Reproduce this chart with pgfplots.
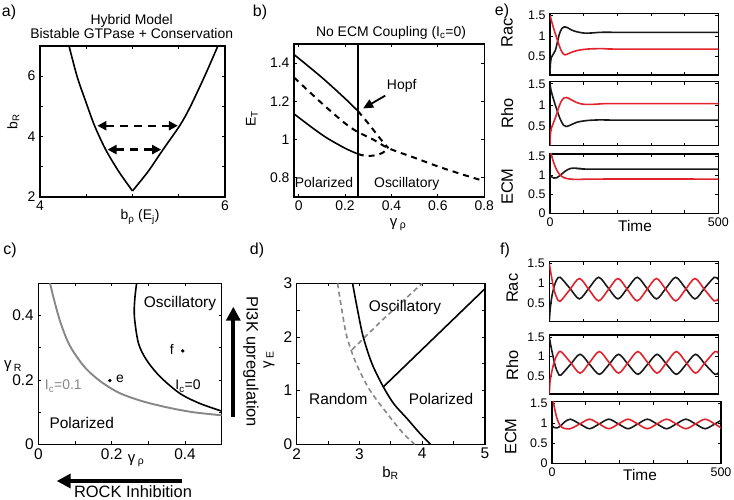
\documentclass[border=0pt]{standalone}
\usepackage{fontspec}
\setmainfont{Liberation Sans}
\usepackage{pgfplots}
\pgfplotsset{compat=1.18}
\usetikzlibrary{arrows.meta}
\definecolor{mred}{RGB}{225,35,45}
\definecolor{mgray}{RGB}{135,135,135}
\definecolor{mblk}{RGB}{25,25,25}
\newcommand{\fs}[1]{\fontsize{#1}{#1}\selectfont}
\newcommand{\sub}[1]{\textsubscript{#1}}
\pgfplotsset{
 mat/.style={
   scale only axis, anchor=south west,
   axis line style={line width=1.5bp},
   tick style={black, line width=0.8bp}, tick align=inside,
   major tick length=3bp, minor tick length=3bp,
   tick label style={font=\fs{14}},
   /pgf/number format/assume math mode=true,
   xticklabel style={yshift=-0.5bp},
   yticklabel style={xshift=-1bp},
 },
 big/.style={tick label style={font=\fs{15.5}}},
 crv/.style={line width=1.6bp, mark=none},
 ts/.style={mat, xmin=0, xmax=500, xtick={0,100,200,300,400,500}, xticklabels={}, tick label style={font=\fs{12.5}}},
}
\begin{document}
\begin{tikzpicture}
\useasboundingbox (0,0) rectangle (734bp,500bp);

% ---------------- a ----------------
\begin{axis}[mat, at={(40bp,303bp)}, width=185bp, height=151bp,
  xmin=4, xmax=6, ymin=2, ymax=7, xtick={4,6}, minor xtick={4.5,5,5.5},
  ytick={2,4,6}, minor ytick={3,5}]
\addplot[crv, smooth] coordinates {(5,2.2) (4.85,2.85) (4.71,3.57) (4.59,4.36) (4.49,5.2) (4.40,6) (4.31,7.05)};
\addplot[crv, smooth] coordinates {(5,2.2) (5.17,2.85) (5.33,3.57) (5.51,4.36) (5.62,4.96) (5.78,6) (5.93,7.05)};
\addplot[line width=2.2bp, dash pattern=on 8bp off 6bp, {Triangle[length=9bp,width=9bp]}-{Triangle[length=9bp,width=9bp]}] coordinates {(4.62,4.36) (5.49,4.36)};
\addplot[line width=2.2bp, dash pattern=on 8bp off 6bp, {Triangle[length=9bp,width=9bp]}-{Triangle[length=9bp,width=9bp]}] coordinates {(4.73,3.57) (5.31,3.57)};
\end{axis}

% ---------------- b ----------------
\begin{axis}[mat, at={(294bp,303bp)}, width=190.3bp, height=153bp,
  xmin=-0.02, xmax=0.8, ymin=0.7, ymax=1.5, xtick={0,0.2,0.4,0.6,0.8}, ytick={0.8,1,1.2,1.4}]
\addplot[crv, smooth] coordinates {(-0.02,1.445) (0.1,1.325) (0.2,1.215) (0.255,1.15)};
\addplot[crv, smooth] coordinates {(-0.02,1.135) (0.05,1.07) (0.12,1.01) (0.2,0.955) (0.255,0.925)};
\addplot[line width=2bp, dash pattern=on 6bp off 5bp, smooth] coordinates {(0.255,1.15) (0.3,1.085) (0.345,1.015) (0.387,0.955)};
\addplot[line width=2bp, dash pattern=on 6bp off 5bp, smooth] coordinates {(-0.02,1.325) (0.1,1.19) (0.2,1.085) (0.255,1.04) (0.322,1.0) (0.387,0.955) (0.5,0.905) (0.6,0.86) (0.7,0.82) (0.8,0.783)};
\addplot[line width=2bp, dash pattern=on 6bp off 5bp, smooth] coordinates {(0.255,0.925) (0.29,0.915) (0.33,0.918) (0.36,0.93) (0.387,0.955)};
\addplot[line width=1.8bp, mark=none] coordinates {(0.255,0.7) (0.255,1.5)};
\addplot[line width=1.8bp, mark=none, -{Triangle[length=10bp,width=9bp]}] coordinates {(0.373,1.23) (0.278,1.163)};
\end{axis}

% ---------------- c ----------------
\begin{axis}[mat, big, at={(38.3bp,55.7bp)}, width=183.4bp, height=161bp,
  xmin=0, xmax=0.5, ymin=0, ymax=0.5, xtick={0,0.2,0.4}, minor xtick={0.1,0.3},
  ytick={0,0.2,0.4}, minor ytick={0.1,0.3}]
\addplot[crv, color=mgray, line width=1.9bp, smooth] coordinates {(0.032,0.5) (0.045,0.44) (0.06,0.38) (0.08,0.32) (0.1,0.28) (0.13,0.235) (0.17,0.195) (0.22,0.16) (0.28,0.135) (0.35,0.115) (0.42,0.1) (0.5,0.09)};
\addplot[crv, smooth] coordinates {(0.268,0.5) (0.263,0.45) (0.262,0.396) (0.273,0.314) (0.295,0.262) (0.332,0.21) (0.386,0.158) (0.44,0.127) (0.5,0.103)};
\addplot[only marks, mark=*, mark size=1.5bp, black] coordinates {(0.195,0.198) (0.394,0.29)};
\end{axis}

% ---------------- d ----------------
\begin{axis}[mat, big, at={(296.7bp,55.7bp)}, width=188.3bp, height=161bp,
  xmin=2, xmax=5, ymin=0, ymax=3, xtick={2,3,4,5}, minor xtick={2.5,3.5,4.5},
  ytick={0,1,2,3}, minor ytick={0.5,1.5,2.5}]
\addplot[line width=1.6bp, color=mgray, dash pattern=on 5bp off 3.5bp, smooth] coordinates {(2.65,3) (2.72,2.5) (2.8,2) (2.95,1.5) (3.17,1) (3.49,0.5) (3.7,0.2) (3.88,0)};
\addplot[line width=1.6bp, color=mgray, dash pattern=on 5bp off 3.5bp] coordinates {(2.88,1.76) (3.35,2.3) (4.0,3.0)};
\addplot[crv, smooth] coordinates {(2.89,3) (2.97,2.5) (3.06,2) (3.2,1.5) (3.38,1.07) (3.55,0.75) (3.75,0.49) (3.95,0.22) (4.13,0)};
\addplot[crv] coordinates {(3.38,1.07) (5,2.9)};
\end{axis}

% ---------------- e ----------------
\begin{axis}[ts, at={(550bp,425bp)}, width=168.3bp, height=61.7bp, ymin=0.05, ymax=1.55, ytick={0.5,1,1.5}]
\addplot[crv, mblk, smooth] coordinates {(0,0.07) (1,0.3) (4,0.48) (10,0.56) (16,0.65) (22,0.85) (28,1.05) (35,1.18) (42,1.22) (52,1.2) (65,1.14) (80,1.1) (100,1.07) (120,1.07) (145,1.085) (170,1.09) (200,1.085) (250,1.085) (500,1.085)};
\addplot[crv, mred, smooth] coordinates {(0,1.5) (5,1.35) (12,1.15) (20,0.95) (28,0.75) (36,0.6) (44,0.54) (55,0.57) (70,0.62) (90,0.66) (120,0.685) (160,0.69) (200,0.68) (500,0.68)};
\end{axis}
\begin{axis}[ts, at={(550bp,354.3bp)}, width=168.3bp, height=64bp, ymin=0.05, ymax=1.55, ytick={0.5,1,1.5}]
\addplot[crv, mblk, smooth] coordinates {(0,1.5) (3,1.35) (10,1.15) (20,0.9) (30,0.68) (40,0.53) (48,0.5) (60,0.53) (80,0.6) (110,0.64) (150,0.655) (200,0.65) (500,0.65)};
\addplot[crv, mred, smooth] coordinates {(0,0.05) (1,0.3) (4,0.45) (10,0.58) (18,0.75) (26,0.95) (34,1.1) (42,1.17) (50,1.18) (60,1.14) (80,1.06) (100,1.02) (130,1.02) (160,1.035) (200,1.035) (500,1.035)};
\end{axis}
\begin{axis}[ts, at={(550bp,286.7bp)}, width=168.3bp, height=59.3bp, ymin=0, ymax=1.55, ytick={0,0.5,1,1.5}, xticklabels={0,,,,,500}]
\addplot[crv, mblk, smooth] coordinates {(0,1.0) (5,0.95) (12,0.92) (20,0.93) (30,0.99) (45,1.1) (60,1.17) (75,1.18) (95,1.165) (130,1.155) (500,1.155)};
\addplot[crv, mred, smooth] coordinates {(0,1.7) (5,1.5) (12,1.3) (20,1.13) (30,1.0) (42,0.93) (55,0.9) (75,0.885) (100,0.89) (140,0.895) (500,0.895)};
\end{axis}

% ---------------- f ----------------
\begin{axis}[ts, at={(549.3bp,178.3bp)}, width=169bp, height=60bp, ymin=0.05, ymax=1.55, ytick={0.5,1,1.5}]
\addplot[crv, mblk, smooth] coordinates {(0,0.05) (3,0.4) (8,0.7) (15,0.95) (22,1.1) (32,1.16) (60.5,0.89) (89,0.62) (117.5,0.89) (146,1.16) (174.5,0.89) (203,0.62) (231.5,0.89) (260,1.16) (288.5,0.89) (317,0.62) (345.5,0.89) (374,1.16) (402.5,0.89) (431,0.62) (459.5,0.89) (488,1.16) (500,1.11)};
\addplot[crv, mred, smooth] coordinates {(0,1.5) (6,1.2) (14,0.85) (22,0.65) (32,0.56) (60.5,0.85) (89,1.13) (117.5,0.85) (146,0.57) (174.5,0.85) (203,1.13) (231.5,0.85) (260,0.57) (288.5,0.85) (317,1.13) (345.5,0.85) (374,0.57) (402.5,0.85) (431,1.13) (459.5,0.85) (488,0.57) (500,0.62)};
\end{axis}
\begin{axis}[ts, at={(549.3bp,106bp)}, width=169bp, height=59bp, ymin=0.05, ymax=1.55, ytick={0.5,1,1.5}]
\addplot[crv, mblk, smooth] coordinates {(0,1.5) (4,1.3) (10,1.05) (18,0.75) (26,0.58) (34,0.53) (62.5,0.8) (91,1.06) (119.5,0.8) (148,0.55) (176.5,0.8) (205,1.06) (233.5,0.8) (262,0.55) (290.5,0.8) (319,1.06) (347.5,0.8) (376,0.55) (404.5,0.8) (433,1.06) (461.5,0.8) (490,0.55) (500,0.59)};
\addplot[crv, mred, smooth] coordinates {(0,0.05) (2,0.35) (7,0.6) (14,0.85) (22,1.03) (34,1.13) (62.5,0.855) (91,0.58) (119.5,0.855) (148,1.13) (176.5,0.855) (205,0.58) (233.5,0.855) (262,1.13) (290.5,0.855) (319,0.58) (347.5,0.855) (376,1.13) (404.5,0.855) (433,0.58) (461.5,0.855) (490,1.13) (500,1.09)};
\end{axis}
\begin{axis}[ts, at={(552bp,36.7bp)}, width=169bp, height=61.6bp, ymin=0, ymax=1.55, ytick={0,0.5,1,1.5}, xticklabels={0,,,,,500}]
\addplot[crv, mblk, smooth] coordinates {(0,0.95) (6,0.9) (14,0.89) (24,0.93) (36,1.03) (54,1.11) (82.5,0.99) (111,0.87) (139.5,0.99) (168,1.11) (196.5,0.99) (225,0.87) (253.5,0.99) (282,1.11) (310.5,0.99) (339,0.87) (367.5,0.99) (396,1.11) (424.5,0.99) (453,0.87) (481.5,0.99) (500,1.08)};
\addplot[crv, mred, smooth] coordinates {(0,1.75) (6,1.45) (14,1.15) (24,0.95) (36,0.88) (54,0.87) (82.5,0.99) (111,1.11) (139.5,0.99) (168,0.87) (196.5,0.99) (225,1.11) (253.5,0.99) (282,0.87) (310.5,0.99) (339,1.11) (367.5,0.99) (396,0.87) (424.5,0.99) (453,1.11) (481.5,0.99) (500,0.89)};
\end{axis}

% ---------------- text ----------------
\node[font=\fs{16}] at (9bp,488bp) {a)};
\node[font=\fs{16}] at (260bp,488bp) {b)};
\node[font=\fs{16}] at (10bp,250bp) {c)};
\node[font=\fs{16}] at (257bp,250bp) {d)};
\node[font=\fs{16}] at (502bp,489bp) {e)};
\node[font=\fs{16}] at (505bp,250bp) {f)};

\node[font=\fs{14}, anchor=base] at (131.7bp,475bp) {Hybrid Model};
\node[font=\fs{14}, anchor=base] at (131.7bp,461.7bp) {Bistable GTPase + Conservation};
\node[font=\fs{14}, anchor=base] at (391bp,463.3bp) {No ECM Coupling (I\sub{c}=0)};

\node[font=\fs{14}, anchor=base] at (140bp,280bp) {b\sub{ρ} (E\sub{j})};
\node[font=\fs{14}, rotate=90] at (13.3bp,378.3bp) {b\sub{R}};

\node[font=\fs{14}, anchor=base] at (401.7bp,410bp) {Hopf};
\node[font=\fs{14}, anchor=base] at (324bp,312.3bp) {Polarized};
\node[font=\fs{14}, anchor=base] at (406.7bp,312.3bp) {Oscillatory};
\node[font=\fs{15}, anchor=base] at (398bp,273.5bp) {γ\,\sub{ρ}};
\node[font=\fs{14}, rotate=90] at (252bp,381bp) {E\sub{T}};

\node[font=\fs{15.5}, anchor=base] at (180bp,192.7bp) {Oscillatory};
\node[font=\fs{15.5}, anchor=base] at (81.7bp,71bp) {Polarized};
\node[font=\fs{14}, anchor=base] at (171.7bp,145bp) {f};
\node[font=\fs{14}, anchor=base] at (120bp,117.3bp) {e};
\node[font=\fs{14}, anchor=base] at (188bp,110bp) {I\sub{c}=0};
\node[font=\fs{14}, anchor=base, text=mgray] at (63.3bp,110bp) {I\sub{c}=0.1};
\node[font=\fs{15}, anchor=base] at (136bp,37.5bp) {γ\,\sub{ρ}};
\node[font=\fs{15}, anchor=base west] at (0.5bp,131bp) {γ\,\sub{R}};
\draw[line width=4bp, -{Triangle[length=14bp,width=14bp]}] (181.7bp,19bp) -- (56.7bp,19bp);
\node[font=\fs{16.5}, anchor=base] at (133bp,2.5bp) {ROCK Inhibition};
\draw[line width=4bp, -{Triangle[length=14bp,width=14bp]}] (233.3bp,83bp) -- (233.3bp,193.3bp);
\node[font=\fs{16.5}, rotate=-90, anchor=base] at (246.7bp,138.3bp) {PI3K upregulation};

\node[font=\fs{15.5}, anchor=base] at (405bp,188.3bp) {Oscillatory};
\node[font=\fs{15.5}, anchor=base] at (338.3bp,95.7bp) {Random};
\node[font=\fs{15.5}, anchor=base] at (441bp,95.7bp) {Polarized};
\node[font=\fs{15}, anchor=base] at (390.5bp,23bp) {b\sub{R}};
\node[font=\fs{15}, rotate=90] at (269bp,140bp) {γ\,\sub{E}};

\node[font=\fs{16.5}, rotate=90] at (507bp,467bp) {Rac};
\node[font=\fs{16.5}, rotate=90] at (507.3bp,387bp) {Rho};
\node[font=\fs{16.5}, rotate=90] at (507.3bp,313.3bp) {ECM};
\node[font=\fs{16.5}, rotate=90] at (512.3bp,211.7bp) {Rac};
\node[font=\fs{16.5}, rotate=90] at (512.3bp,135bp) {Rho};
\node[font=\fs{16.5}, rotate=90] at (510.7bp,63.3bp) {ECM};
\node[font=\fs{15.5}, anchor=base] at (635bp,268.3bp) {Time};
\node[font=\fs{15.5}, anchor=base] at (640bp,20bp) {Time};
\end{tikzpicture}
\end{document}
